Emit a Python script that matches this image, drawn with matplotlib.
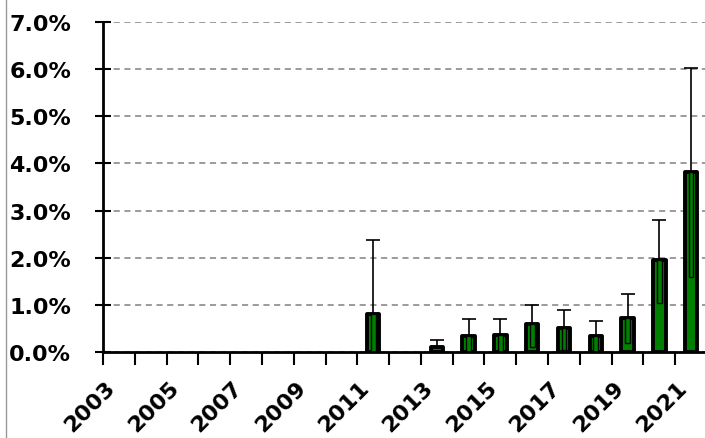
import numpy as np
import matplotlib.pyplot as plt
from matplotlib.lines import Line2D

years = list(range(2003, 2022))
# percent values (None = no bar)
vals = [None] * 8 + [0.80, None, 0.10, 0.35, 0.37, 0.60, 0.50, 0.35, 0.72, 1.95, 3.82]
upper = [None] * 8 + [2.38, None, 0.25, 0.70, 0.70, 1.00, 0.90, 0.65, 1.22, 2.80, 6.02]
lower = [None] * 8 + [0.0, None, None, 0.0, 0.0, 0.10, 0.05, 0.0, 0.20, 1.05, 1.60]

x = np.arange(len(years))
v = np.array([np.nan if a is None else a / 100 for a in vals])

fig = plt.figure(figsize=(7.05, 4.39), dpi=100)
ax = fig.add_axes([103 / 705, 86 / 439, 604 / 705, 330 / 439])

ax.set_ylim(0, 0.07)
ax.set_xlim(-0.5, len(years) - 0.5)
ax.set_yticks(np.arange(0, 0.071, 0.01))
ax.yaxis.grid(True, color='#808080', linestyle=(0, (4, 3)), lw=1.1)
ax.set_axisbelow(True)

ax.bar(x, v, width=0.39, color='#008000', edgecolor='black', lw=2.8,
       joinstyle='round', zorder=3)

# inner outline inside the bars
for i in range(len(years)):
    if lower[i] is None:
        continue
    lo = lower[i] / 100
    ax.bar(x[i], v[i] - lo, bottom=lo, width=0.15, color='#008000',
           edgecolor='black', lw=1.0, zorder=4)

# upper error bars
for i in range(len(years)):
    if upper[i] is None:
        continue
    ax.errorbar(x[i], v[i], yerr=[[0], [upper[i] / 100 - v[i]]], fmt='none',
                ecolor='black', elinewidth=1.2, capsize=5, capthick=1.2, zorder=2)

for s in ['top', 'right']:
    ax.spines[s].set_visible(False)
ax.spines['left'].set_linewidth(2)
ax.spines['bottom'].set_linewidth(2)
ax.spines['bottom'].set_zorder(5)

ax.set_yticklabels(['%.1f%%' % (t * 100) for t in np.arange(0, 0.071, 0.01)],
                   fontsize=16, fontweight='bold')
ax.tick_params(axis='y', direction='inout', length=12, width=1.5, pad=17)

ax.set_xticks(np.arange(-0.5, len(years), 1.0))
ax.set_xticklabels([])
ax.tick_params(axis='x', which='major', direction='out', length=9, width=1.5)
ax.set_xticks(x[::2], minor=True)
ax.set_xticklabels([str(y) for y in years[::2]], minor=True, rotation=45,
                   ha='right', va='bottom', rotation_mode='anchor',
                   fontsize=16, fontweight='bold')
ax.tick_params(axis='x', which='minor', length=0, pad=28)

fig.add_artist(Line2D([6 / 705, 6 / 705], [0, 1], color='#999999', lw=1))

fig.savefig('out.png', dpi=100)
